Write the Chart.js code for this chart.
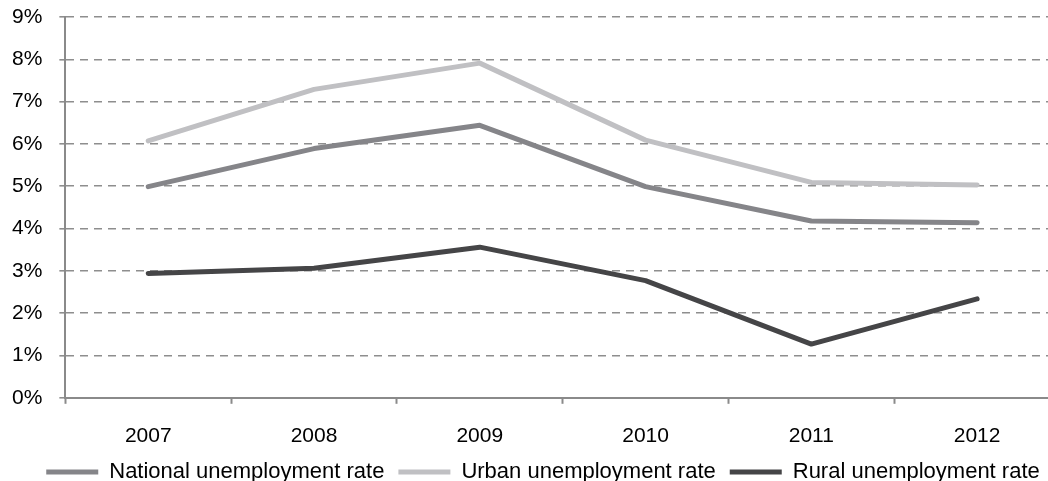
<!DOCTYPE html>
<html>
<head>
<meta charset="utf-8">
<script src="https://cdn.jsdelivr.net/npm/chart.js@4.4.1/dist/chart.umd.min.js"></script>
<style>
  html, body { margin: 0; padding: 0; background: #fff; overflow: hidden; }
  #wrap { width: 1060px; height: 481px; }
</style>
</head>
<body>
<div id="wrap"><canvas id="taxaChart" width="1060" height="481"></canvas></div>
<script>
// dados (em %)
const anos = ['2007', '2008', '2009', '2010', '2011', '2012'];
const taxaNacional = [4.99, 5.89, 6.44, 4.99, 4.18, 4.14];
const taxaUrbana = [6.07, 7.29, 7.91, 6.09, 5.09, 5.03];
const taxaRural = [2.94, 3.06, 3.56, 2.77, 1.27, 2.34];
const ticksY = [0, 1, 2, 3, 4, 5, 6, 7, 8, 9];

const fonte = "'Liberation Sans', Arial, sans-serif";
Chart.defaults.font.family = fonte;
Chart.defaults.font.size = 21;
Chart.defaults.color = '#000';

function serie(label, dados, cor) {
    return {
        label: label,
        data: dados,
        borderColor: cor,
        backgroundColor: cor,
        borderWidth: 5,
        borderCapStyle: 'round',
        borderJoinStyle: 'round',
        pointRadius: 0,
        pointStyle: 'line',
        tension: 0
    };
}

// desloca a legenda um pouco para a direita (como no original)
const ajusteLegenda = {
    id: 'ajusteLegenda',
    afterLayout(chart) {
        if (chart.legend) chart.legend.left = 26;
    }
};

new Chart(document.getElementById('taxaChart').getContext('2d'), {
    type: 'line',
    data: {
        labels: anos,
        datasets: [
            serie('National unemployment rate', taxaNacional, '#858589'),
            serie('Urban unemployment rate', taxaUrbana, '#c0c0c3'),
            serie('Rural unemployment rate', taxaRural, '#454547')
        ]
    },
    plugins: [ajusteLegenda],
    options: {
        responsive: false,
        animation: false,
        layout: { padding: { left: -5, top: 17, right: 0, bottom: -12 } },
        plugins: {
            tooltip: { enabled: false },
            legend: {
                position: 'bottom',
                labels: {
                    usePointStyle: true,
                    pointStyleWidth: 52,
                    padding: 14,
                    font: { size: 22 },
                    color: '#000'
                }
            }
        },
        scales: {
            x: {
                offset: true,
                grid: {
                    offset: true,
                    drawOnChartArea: false,
                    tickLength: 6,
                    tickWidth: 2,
                    tickColor: '#8a8a8a'
                },
                border: { color: '#8a8a8a', width: 2 },
                ticks: { padding: 20, font: { size: 21 }, color: '#000' },
                // aproxima a legenda dos rótulos do eixo
                afterFit: s => { s.height -= 22; }
            },
            y: {
                min: 0,
                max: 9,
                afterBuildTicks: s => { s.ticks = ticksY.map(v => ({ value: v })); },
                afterFit: s => { s.paddingTop = 0; },
                grid: {
                    color: '#8e8e8e',
                    lineWidth: 1.6,
                    tickLength: 6,
                    tickColor: '#8e8e8e'
                },
                border: { color: '#8a8a8a', width: 2, dash: [8, 6] },
                ticks: {
                    padding: 17,
                    font: { size: 21 },
                    color: '#000',
                    callback: v => v + '%'
                }
            }
        }
    }
});
</script>
</body>
</html>
